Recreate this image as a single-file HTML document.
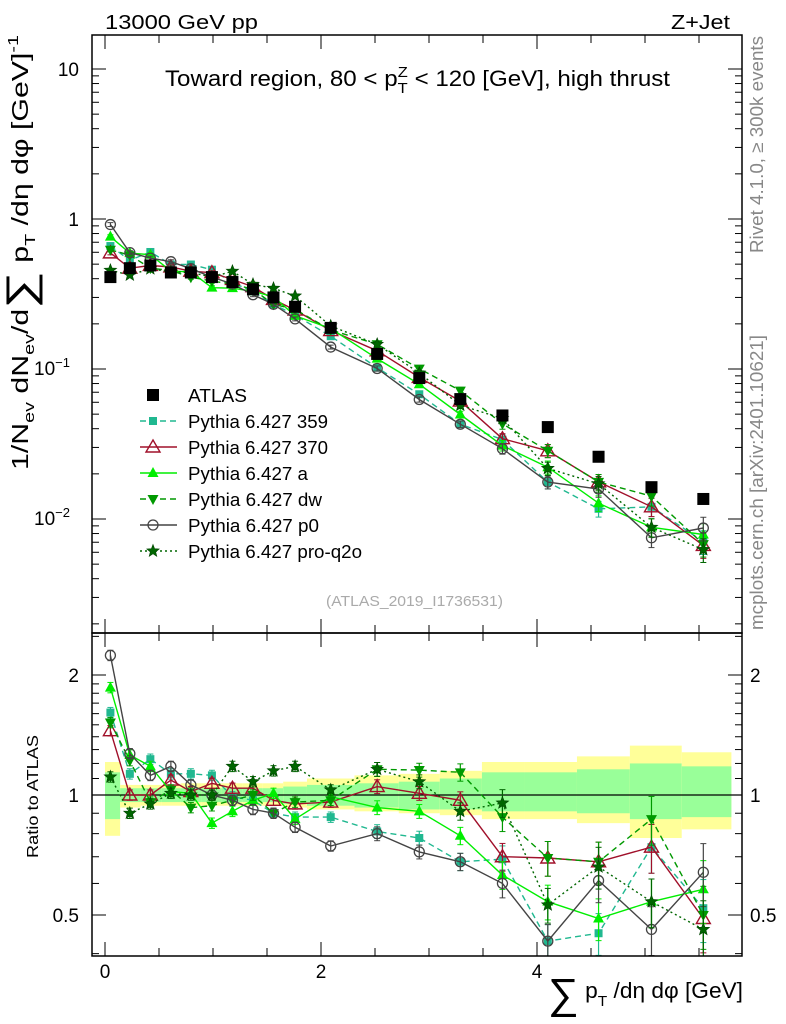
<!DOCTYPE html>
<html><head><meta charset="utf-8"><style>
body{margin:0;background:#fff;}
svg{display:block;font-family:"Liberation Sans","DejaVu Sans",sans-serif;}
</style></head><body>
<svg id="c" width="786" height="1024" viewBox="0 0 786 1024" xmlns="http://www.w3.org/2000/svg">
<text x="105" y="29" font-size="20" textLength="153" lengthAdjust="spacingAndGlyphs">13000 GeV pp</text>
<text x="671" y="29" font-size="20" textLength="59" lengthAdjust="spacingAndGlyphs">Z+Jet</text>
<text x="165" y="86" font-size="22" textLength="505" lengthAdjust="spacingAndGlyphs">Toward region, 80 &lt; p<tspan font-size="15" dy="7">T</tspan><tspan font-size="15" dx="-9" dy="-16">Z</tspan><tspan dy="9"> &lt; 120 [GeV], high thrust</tspan></text>
<text transform="translate(763,253) rotate(-90)" font-size="18" fill="#888" textLength="217" lengthAdjust="spacingAndGlyphs">Rivet 4.1.0, ≥ 300k events</text>
<text transform="translate(763,630) rotate(-90)" font-size="18" fill="#888" textLength="295" lengthAdjust="spacingAndGlyphs">mcplots.cern.ch [arXiv:2401.10621]</text>
<text x="326" y="606" font-size="15" fill="#aaa" textLength="177" lengthAdjust="spacingAndGlyphs">(ATLAS_2019_I1736531)</text>
<text transform="translate(28,470) rotate(-90)" font-size="23" textLength="435" lengthAdjust="spacingAndGlyphs">1/N<tspan font-size="15" dy="6">ev</tspan><tspan dy="-6"> dN</tspan><tspan font-size="15" dy="6">ev</tspan><tspan dy="-6">/d</tspan><tspan font-size="40" dy="6">∑</tspan><tspan dy="-6"> p</tspan><tspan font-size="15" dy="7">T</tspan><tspan dy="-7"> /dη dφ  [GeV]</tspan><tspan font-size="15" dy="-10">-1</tspan></text>
<text transform="translate(38,858) rotate(-90)" font-size="16" textLength="123" lengthAdjust="spacingAndGlyphs">Ratio to ATLAS</text>
<text x="548" y="998" font-size="22" textLength="195" lengthAdjust="spacingAndGlyphs"><tspan font-size="42" dy="10">∑</tspan><tspan dy="-10"> p</tspan><tspan font-size="15" dy="8">T</tspan><tspan dy="-8"> /dη dφ [GeV]</tspan></text>
<g id="g"></g>
</svg>
<script>
const xc=[0.05,0.23,0.42,0.61,0.795,0.99,1.18,1.37,1.56,1.76,2.09,2.52,2.91,3.29,3.68,4.1,4.57,5.06,5.54];
const edges=[0,0.14,0.33,0.52,0.70,0.89,1.08,1.27,1.46,1.65,1.87,2.31,2.72,3.1,3.49,3.88,4.37,4.86,5.34,5.8];
const atlas=[0.41,0.47,0.49,0.44,0.44,0.41,0.38,0.34,0.30,0.26,0.188,0.126,0.087,0.063,0.049,0.041,0.026,0.0163,0.0136];
const bandYUp=[1.21,1.06,1.06,1.06,1.07,1.07,1.07,1.07,1.07,1.08,1.1,1.12,1.13,1.15,1.21,1.21,1.25,1.33,1.28];
const bandYDn=[0.79,0.93,0.94,0.94,0.94,0.94,0.94,0.94,0.94,0.93,0.92,0.91,0.90,0.89,0.87,0.87,0.85,0.78,0.82];
const bandGUp=[1.14,1.04,1.04,1.04,1.04,1.04,1.04,1.04,1.04,1.05,1.06,1.07,1.08,1.10,1.14,1.14,1.16,1.2,1.18];
const bandGDn=[0.87,0.96,0.96,0.96,0.96,0.96,0.96,0.96,0.96,0.95,0.94,0.93,0.92,0.92,0.91,0.91,0.9,0.87,0.88];
const mcErr=[0.03,0.03,0.03,0.03,0.03,0.03,0.03,0.03,0.03,0.03,0.03,0.04,0.04,0.05,0.08,0.1,0.12,0.14,0.18];
const r359=[1.61,1.13,1.23,1.13,1.13,1.12,0.99,0.97,0.90,0.88,0.88,0.81,0.78,0.68,0.69,0.43,0.45,0.74,0.52];
const r370=[1.45,1.0,1.0,1.09,1.02,1.07,1.04,1.04,0.97,0.95,0.96,1.05,1.01,0.97,0.70,0.695,0.68,0.74,0.49];
const rA=[1.86,1.26,1.18,1.02,1.01,0.85,0.91,0.97,1.01,0.87,0.99,0.93,0.91,0.79,0.63,0.54,0.49,0.54,0.58];
const rDw=[1.52,1.22,0.96,1.03,0.93,0.94,0.97,1.0,0.90,0.96,0.97,1.16,1.155,1.14,0.88,0.695,0.68,0.87,0.50];
const rP0=[2.24,1.27,1.12,1.18,1.06,1.0,0.97,0.92,0.90,0.83,0.745,0.80,0.72,0.68,0.60,0.43,0.61,0.46,0.64];
const rPq=[1.11,0.90,0.95,1.01,1.0,1.0,1.18,1.08,1.15,1.18,1.03,1.16,1.08,0.91,0.955,0.53,0.66,0.54,0.46];

const NS="http://www.w3.org/2000/svg",g=document.getElementById('g');
function el(t,a,p){const e=document.createElementNS(NS,t);for(const k in a)e.setAttribute(k,a[k]);(p||g).appendChild(e);return e;}
const L=92,R=742,T=35,MB=633,B=956;
const X=v=>105+v*108;
const Y=v=>219-Math.log10(v)*150;
const RY=v=>795-Math.log2(v)*120;

const bg=el('g',{});
for(let i=0;i<xc.length;i++){
 const x0=X(edges[i]),x1=X(edges[i+1]);
 const y=el('rect',{x:x0,y:RY(bandYUp[i]),width:x1-x0,height:RY(bandYDn[i])-RY(bandYUp[i]),fill:'#ffff99'},bg);
 
 const gr=el('rect',{x:x0,y:RY(bandGUp[i]),width:x1-x0,height:RY(bandGDn[i])-RY(bandGUp[i]),fill:'#99ff99'},bg);
 
}
const one=el('line',{x1:L,x2:R,y1:RY(1),y2:RY(1),stroke:'#000','stroke-width':1.2});


function marker(p,type,x,y,c,s){
 s=s||5;
 if(type==='sq')return el('rect',{x:x-s+1,y:y-s+1,width:2*s-2,height:2*s-2,fill:c},p);
 if(type==='osq')return el('rect',{x:x-6,y:y-6,width:12,height:12,fill:'#000'},p);
 if(type==='otri')return el('path',{d:`M${x},${y-7}L${x+7},${y+5}L${x-7},${y+5}Z`,fill:'none',stroke:c,'stroke-width':1.4},p);
 if(type==='tri')return el('path',{d:`M${x},${y-6}L${x+5.5},${y+4}L${x-5.5},${y+4}Z`,fill:c},p);
 if(type==='dtri')return el('path',{d:`M${x},${y+6}L${x+5.5},${y-4}L${x-5.5},${y-4}Z`,fill:c},p);
 if(type==='circ')return el('circle',{cx:x,cy:y,r:5,fill:'none',stroke:c,'stroke-width':1.3},p);
 if(type==='star'){let d='';for(let k=0;k<10;k++){const a=-Math.PI/2+k*Math.PI/5,r=k%2?2.8:6.5;d+=(k?'L':'M')+(x+r*Math.cos(a)).toFixed(1)+','+(y+r*Math.sin(a)).toFixed(1);}return el('path',{d:d+'Z',fill:c,stroke:'#004400','stroke-width':0.6},p);}
}
const series=[
 {n:'359',r:r359,c:'#20b890',d:'6,4',m:'sq',lbl:'Pythia 6.427 359',tl:140},
 {n:'370',r:r370,c:'#a0102a',d:'',m:'otri',lbl:'Pythia 6.427 370',tl:140},
 {n:'a',r:rA,c:'#00ee00',d:'',m:'tri',lbl:'Pythia 6.427 a',tl:120},
 {n:'dw',r:rDw,c:'#009900',d:'6,4',m:'dtri',lbl:'Pythia 6.427 dw',tl:134},
 {n:'p0',r:rP0,c:'#444444',d:'',m:'circ',lbl:'Pythia 6.427 p0',tl:131},
 {n:'pro-q2o',r:rPq,c:'#006600',d:'2,3',m:'star',lbl:'Pythia 6.427 pro-q2o',tl:174}
];
function clip(id,y0,y1){const cp=el('clipPath',{id:id});el('rect',{x:L,y:y0,width:R-L,height:y1-y0},cp);}
clip('cm',T,MB);clip('cr',MB,B);
series.forEach(s=>{
 ['main','ratio'].forEach(pn=>{
  const grp=el('g',{'clip-path':pn==='main'?'url(#cm)':'url(#cr)'});
  
  
  const yf=i=>pn==='main'?Y(atlas[i]*s.r[i]):RY(s.r[i]);
  const pts=xc.map((v,i)=>X(v).toFixed(1)+','+yf(i).toFixed(1)).join(' ');
  const pl=el('polyline',{points:pts,fill:'none',stroke:s.c,'stroke-width':1.4,'stroke-dasharray':s.d},grp);
  
  xc.forEach((v,i)=>{
   const val=pn==='main'?atlas[i]*s.r[i]:s.r[i];
   const f=pn==='main'?Y:RY;
   const x=X(v),y1=f(val*(1+mcErr[i])),y2=f(val*(1-mcErr[i]));
   el('line',{x1:x,x2:x,y1:y1,y2:y2,stroke:s.c,'stroke-width':1.2},grp);
   el('line',{x1:x-3,x2:x+3,y1:y1,y2:y1,stroke:s.c},grp);
   el('line',{x1:x-3,x2:x+3,y1:y2,y2:y2,stroke:s.c},grp);
   const mk=marker(grp,s.m,x,yf(i),s.c);
   
  });
 });
});
const ag=el('g',{});
xc.forEach((v,i)=>{const m=marker(ag,'osq',X(v),Y(atlas[i]));});

const f1=el('rect',{x:L,y:T,width:R-L,height:MB-T,fill:'none',stroke:'#000','stroke-width':1.5});

const f2=el('rect',{x:L,y:MB,width:R-L,height:B-MB,fill:'none',stroke:'#000','stroke-width':1.5});

for(let v=0;v<=5.5;v+=0.5){const x=X(v),maj=(v%2===0);const l=maj?14:8;
 [[MB,-1],[B,-1],[T,1],[MB,1]].forEach(([y,d])=>el('line',{x1:x,x2:x,y1:y,y2:y+d*l,stroke:'#000'}));
 if(maj){const t=el('text',{x:x,y:978,'font-size':19,'text-anchor':'middle'});t.textContent=v;}}
for(let e=-3;e<=1;e++)for(let k=1;k<10;k++){const v=k*Math.pow(10,e),y=Y(v);if(y<T||y>MB)continue;const l=k===1?14:7;
 el('line',{x1:L,x2:L+l,y1:y,y2:y,stroke:'#000'});el('line',{x1:R,x2:R-l,y1:y,y2:y,stroke:'#000'});}
const ylab=[['10',69,''],['1',219,''],['10',368,'−1'],['10',518,'−2']];
ylab.forEach(([b,y,s])=>{const t=el('text',{x:s?70:79,y:y+7,'font-size':19,'text-anchor':'end'});t.textContent=b;
 if(s){const ts=el('tspan',{'font-size':13,dy:-8},t);ts.textContent=s;}
 });
[0.4,0.5,0.6,0.7,0.8,0.9,1,1.1,1.2,1.3,1.4,1.5,1.6,1.7,1.8,1.9,2,2.5].forEach(v=>{const y=RY(v);if(y<MB||y>B)return;const l=(v===0.5||v===1||v===2)?14:7;
 el('line',{x1:L,x2:L+l,y1:y,y2:y,stroke:'#000'});el('line',{x1:R,x2:R-l,y1:y,y2:y,stroke:'#000'});});
[['2',2],['1',1],['0.5',0.5]].forEach(([s,v])=>{
 const t=el('text',{x:79,y:RY(v)+7,'font-size':19,'text-anchor':'end'});t.textContent=s;
 const t2=el('text',{x:750,y:RY(v)+7,'font-size':19});t2.textContent=s;});
const lg=el('g',{});
const e0=el('g',{},lg);
marker(e0,'osq',153,395);const t0=el('text',{x:188,y:402,'font-size':18,textLength:59,lengthAdjust:'spacingAndGlyphs'},e0);t0.textContent='ATLAS';
series.forEach((s,i)=>{const y=421+i*26;const eg=el('g',{},lg);
 
 el('line',{x1:140,x2:177,y1:y,y2:y,stroke:s.c,'stroke-width':1.4,'stroke-dasharray':s.d},eg);
 marker(eg,s.m,153,y,s.c);
 const t=el('text',{x:188,y:y+7,'font-size':18,textLength:s.tl,lengthAdjust:'spacingAndGlyphs'},eg);t.textContent=s.lbl;});
</script>
</body></html>
